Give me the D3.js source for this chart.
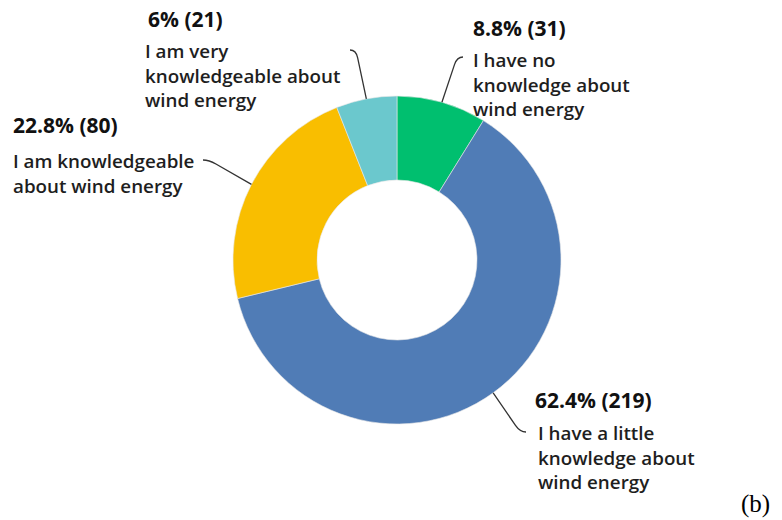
<!DOCTYPE html>
<html>
<head>
<meta charset="utf-8">
<script src="https://cdn.jsdelivr.net/npm/d3@7"></script>
<style>
  body { margin: 0; background: #fff; }
  svg { display: block; }
</style>
</head>
<body>
<div id="chart"></div>
<script>
// answers, counts and percentages
const categories = [
  "I have no knowledge about wind energy",
  "I have a little knowledge about wind energy",
  "I am knowledgeable about wind energy",
  "I am very knowledgeable about wind energy"
];
const counts = [31, 219, 80, 21];
const percents = ["8.8%", "62.4%", "22.8%", "6%"];
const labelLines = [
  ["I have no", "knowledge about", "wind energy"],
  ["I have a little", "knowledge about", "wind energy"],
  ["I am knowledgeable", "about wind energy"],
  ["I am very", "knowledgeable about", "wind energy"]
];
const colors = ["#00bf6f", "#507cb6", "#f9be00", "#6bc8cd"];

const fullWidth = 782, fullHeight = 520;
const cx = 397, cy = 260;
const outerR = 164, innerR = 80;

// where each label block sits, plus the end point of its leader line
const labelPos = [
  { x: 473, y: 36, tx: 463, ty: 57, side: "right", dy: 31, dx: 0 },
  { x: 535, y: 408, tx: 526, ty: 432, side: "right", dy: 32, dx: 3 },
  { x: 13, y: 133, tx: 203, ty: 160, side: "left", dy: 35, dx: 0 },
  { x: 148, y: 27, tx: 350, ty: 50, side: "left", dy: 31, dx: -3 }
];

const svg = d3.select("#chart").append("svg")
  .attr("width", fullWidth)
  .attr("height", fullHeight);

const g = svg.append("g")
  .attr("transform", "translate(" + cx + "," + cy + ")");

const pie = d3.pie().sort(null).value(d => d);
const arcs = pie(counts);

const arc = d3.arc().innerRadius(innerR).outerRadius(outerR);
const edge = d3.arc().innerRadius(outerR).outerRadius(outerR);

g.selectAll("path.slice")
  .data(arcs)
  .enter().append("path")
  .attr("class", "slice")
  .attr("d", arc)
  .attr("fill", (d, i) => colors[i])
  .attr("stroke", "#e8e8e8")
  .attr("stroke-width", 0.6);

// leader lines: straight run, then a soft bend into horizontal
arcs.forEach(function(d, i) {
  const p = edge.centroid(d);
  const sx = p[0] + cx, sy = p[1] + cy;
  const L = labelPos[i];
  const dir = L.side === "right" ? 1 : -1;
  const c = [L.tx - dir * 6, L.ty];
  const vx = sx - c[0], vy = sy - c[1];
  const len = Math.sqrt(vx * vx + vy * vy);
  const b = [c[0] + vx / len * 8, c[1] + vy / len * 8];
  const path = d3.path();
  path.moveTo(sx, sy);
  path.lineTo(b[0], b[1]);
  path.quadraticCurveTo(c[0], c[1], L.tx, L.ty);
  svg.append("path")
    .attr("d", path.toString())
    .attr("fill", "none")
    .attr("stroke", "#333")
    .attr("stroke-width", 1.3);
});

// labels
const font = "'Open Sans', 'Noto Sans', sans-serif";
labelPos.forEach(function(L, i) {
  svg.append("text")
    .attr("x", L.x)
    .attr("y", L.y)
    .attr("font-family", font)
    .attr("font-weight", "bold")
    .attr("font-size", 21)
    .attr("fill", "#111")
    .text(percents[i] + " (" + counts[i] + ")");

  const t = svg.append("text")
    .attr("font-family", font)
    .attr("font-weight", 600)
    .attr("font-size", 18.8)
    .attr("fill", "#1e1e1e");
  labelLines[i].forEach(function(s, k) {
    t.append("tspan")
      .attr("x", L.x + L.dx)
      .attr("y", L.y + L.dy + k * 24.5)
      .text(s);
  });
});

svg.append("text")
  .attr("x", 741)
  .attr("y", 512)
  .attr("font-family", "'Liberation Serif', 'DejaVu Serif', serif")
  .attr("font-size", 25)
  .attr("fill", "#000")
  .text("(b)");
</script>
</body>
</html>
